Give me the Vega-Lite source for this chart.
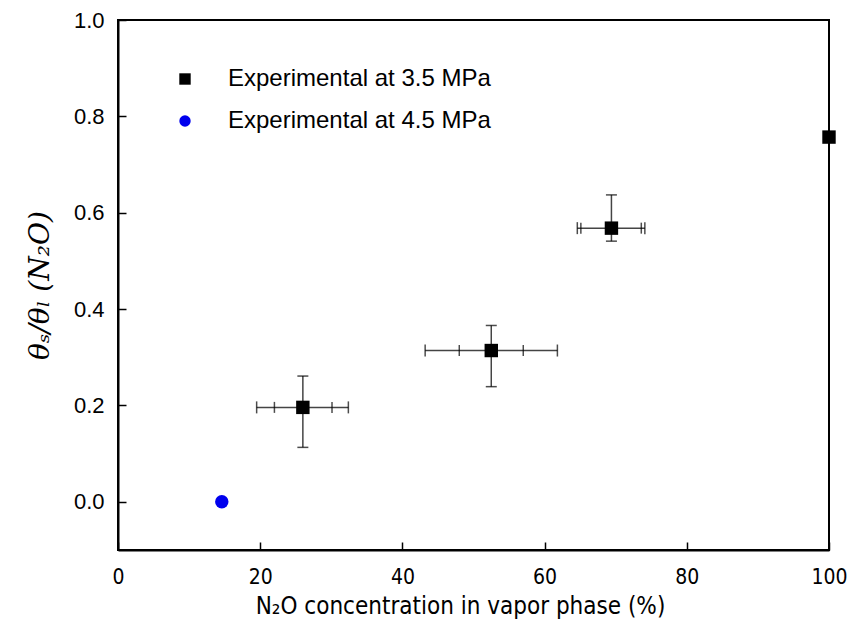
{
  "$schema": "https://vega.github.io/schema/vega-lite/v6.json",
  "width": 711,
  "height": 530,
  "autosize": {"type": "none"},
  "padding": {"left": 118, "top": 20, "right": 21, "bottom": 79},
  "background": "white",
  "config": {
    "view": {"stroke": "black", "strokeWidth": 2},
    "axis": {"grid": false, "domainColor": "black", "domainWidth": 2, "tickColor": "black", "tickWidth": 1.5, "labelColor": "black", "titleColor": "black", "titleFontWeight": "normal", "labelFlush": false, "labelOverlap": false}
  },
  "datasets": {
    "err": [
      {"x": 26.0, "y": 0.196, "xlo": 19.5, "xhi": 32.4, "xilo": 22.0, "xihi": 30.1, "ylo": 0.113, "yhi": 0.261},
      {"x": 52.5, "y": 0.314, "xlo": 43.2, "xhi": 61.8, "xilo": 48.0, "xihi": 57.0, "ylo": 0.239, "yhi": 0.366},
      {"x": 69.4, "y": 0.568, "xlo": 64.6, "xhi": 74.1, "xilo": 65.1, "xihi": 73.6, "ylo": 0.541, "yhi": 0.637}
    ],
    "pts": [
      {"x": 26.0, "y": 0.196, "series": "Experimental at 3.5 MPa"},
      {"x": 52.5, "y": 0.314, "series": "Experimental at 3.5 MPa"},
      {"x": 69.4, "y": 0.568, "series": "Experimental at 3.5 MPa"},
      {"x": 100.0, "y": 0.757, "series": "Experimental at 3.5 MPa"},
      {"x": 14.6, "y": 0.0, "series": "Experimental at 4.5 MPa"}
    ]
  },
  "layer": [
    {
      "data": {"name": "err"},
      "mark": {"type": "rule", "color": "#444444", "strokeWidth": 1.5},
      "encoding": {
        "x": {"field": "x", "type": "quantitative", "scale": {"domain": [0, 100], "nice": false},
          "axis": {"values": [0, 20, 40, 60, 80, 100], "tickSize": -8, "labelPadding": 24, "labelFont": "DejaVu Sans Condensed, Liberation Sans", "labelFontSize": 21,
            "title": "N₂O concentration in vapor phase  (%)", "titleFont": "DejaVu Sans Condensed, Liberation Sans", "titleFontSize": 24, "titlePadding": 7, "titleX": 342}},
        "y": {"field": "ylo", "type": "quantitative", "scale": {"domain": [-0.1, 1.0], "nice": false, "zero": false},
          "axis": {"values": [0, 0.2, 0.4, 0.6, 0.8, 1.0], "format": ".1f", "tickSize": -8, "labelPadding": 22, "labelFont": "Liberation Sans", "labelFontSize": 22,
            "title": "θₛ/θₗ (N₂O)", "titleFont": "DejaVu Serif", "titleFontStyle": "italic", "titleFontSize": 28, "titlePadding": 19}},
        "y2": {"field": "yhi"}
      }
    },
    {
      "data": {"name": "err"},
      "mark": {"type": "rule", "color": "#444444", "strokeWidth": 1.5},
      "encoding": {
        "x": {"field": "xlo", "type": "quantitative"},
        "x2": {"field": "xhi"},
        "y": {"field": "y", "type": "quantitative"}
      }
    },
    {
      "data": {"name": "err"},
      "mark": {"type": "tick", "orient": "horizontal", "color": "black", "size": 11, "thickness": 1.5},
      "encoding": {"x": {"field": "x", "type": "quantitative"}, "y": {"field": "ylo", "type": "quantitative"}}
    },
    {
      "data": {"name": "err"},
      "mark": {"type": "tick", "orient": "horizontal", "color": "black", "size": 11, "thickness": 1.5},
      "encoding": {"x": {"field": "x", "type": "quantitative"}, "y": {"field": "yhi", "type": "quantitative"}}
    },
    {
      "data": {"name": "err"},
      "mark": {"type": "tick", "orient": "vertical", "color": "black", "size": 12, "thickness": 1.5},
      "encoding": {"x": {"field": "xlo", "type": "quantitative"}, "y": {"field": "y", "type": "quantitative"}}
    },
    {
      "data": {"name": "err"},
      "mark": {"type": "tick", "orient": "vertical", "color": "black", "size": 12, "thickness": 1.5},
      "encoding": {"x": {"field": "xhi", "type": "quantitative"}, "y": {"field": "y", "type": "quantitative"}}
    },
    {
      "data": {"name": "err"},
      "mark": {"type": "tick", "orient": "vertical", "color": "black", "size": 11, "thickness": 1.5},
      "encoding": {"x": {"field": "xilo", "type": "quantitative"}, "y": {"field": "y", "type": "quantitative"}}
    },
    {
      "data": {"name": "err"},
      "mark": {"type": "tick", "orient": "vertical", "color": "black", "size": 11, "thickness": 1.5},
      "encoding": {"x": {"field": "xihi", "type": "quantitative"}, "y": {"field": "y", "type": "quantitative"}}
    },
    {
      "data": {"name": "pts"},
      "mark": {"type": "point", "filled": true, "opacity": 1, "size": 180, "clip": false},
      "encoding": {
        "x": {"field": "x", "type": "quantitative"},
        "y": {"field": "y", "type": "quantitative"},
        "color": {"field": "series", "type": "nominal", "scale": {"domain": ["Experimental at 3.5 MPa", "Experimental at 4.5 MPa"], "range": ["black", "#0000ee"]},
          "legend": {"orient": "none", "legendX": 55, "legendY": 47, "title": null, "labelFont": "Liberation Sans", "labelFontSize": 24, "labelColor": "black", "labelLimit": 0, "symbolSize": 130, "labelOffset": 31, "rowPadding": 18, "padding": 0, "symbolStrokeWidth": 0}},
        "shape": {"field": "series", "type": "nominal", "scale": {"domain": ["Experimental at 3.5 MPa", "Experimental at 4.5 MPa"], "range": ["square", "circle"]}, "legend": null}
      }
    }
  ]
}
